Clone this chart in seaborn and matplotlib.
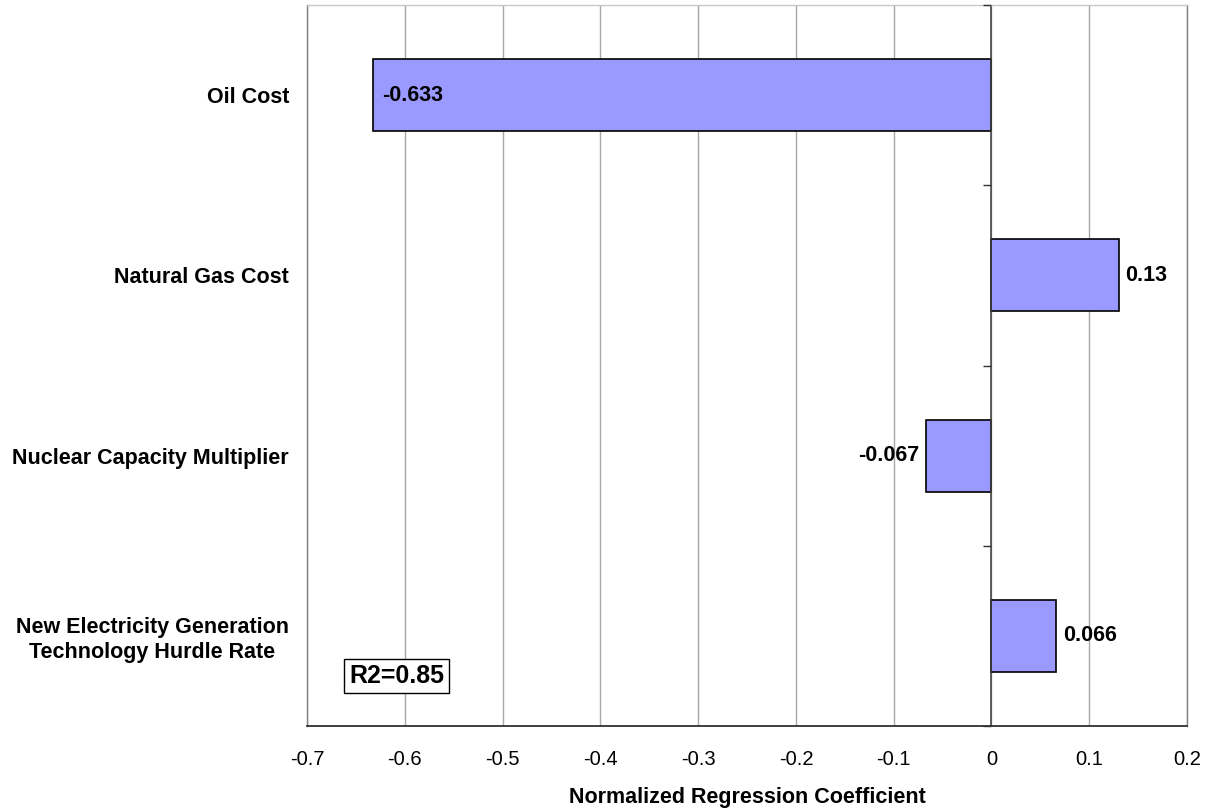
import matplotlib
matplotlib.use("Agg")
import matplotlib.pyplot as plt
import seaborn as sns
import numpy as np

categories = ["Oil Cost", "Natural Gas Cost", "Nuclear Capacity Multiplier",
              "New Electricity Generation\nTechnology Hurdle Rate"]
coefs = [-0.633, 0.13, -0.067, 0.066]
coef_labels = ["-0.633", "0.13", "-0.067", "0.066"]
xticks = [-0.7, -0.6, -0.5, -0.4, -0.3, -0.2, -0.1, 0, 0.1, 0.2]
xtick_labels = ["-0.7", "-0.6", "-0.5", "-0.4", "-0.3", "-0.2", "-0.1", "0", "0.1", "0.2"]
r2_text = "R2=0.85"

sns.set_style("white")
plt.rcParams['font.family'] = ['Liberation Sans', 'DejaVu Sans']
plt.rcParams['text.color'] = 'black'
plt.rcParams['xtick.color'] = 'black'
plt.rcParams['ytick.color'] = 'black'
plt.rcParams['axes.labelcolor'] = 'black'

fig = plt.figure(figsize=(12.11, 8.09), dpi=100)
ax = fig.add_axes([0.2535, 0.1026, 0.7267, 0.8912])

sns.barplot(x=coefs, y=categories, orient="h", color="#9999FF", saturation=1,
            width=0.4, edgecolor="black", linewidth=1.2, ax=ax)

ax.set_xlim(-0.7, 0.2)
ax.set_ylim(len(categories) - 0.5, -0.5)
ax.set_xticks(xticks)
ax.set_xticklabels(xtick_labels, fontsize=14.5)
ax.set_yticks(range(len(categories)))
ax.set_yticklabels(categories, fontsize=15.5, fontweight="bold",
                   multialignment="center", linespacing=1.2)
ax.tick_params(axis="y", length=0, pad=13)
ax.tick_params(axis="x", direction="out", length=5, width=1, color="#303030", pad=12)

ax.grid(axis="x", color="#a8a8a8", linewidth=1)
ax.set_axisbelow(True)
ax.spines["left"].set_color("#808080")
ax.spines["right"].set_color("#808080")
ax.spines["top"].set_color("#c8c8c8")
ax.spines["bottom"].set_color("#303030")
ax.spines["bottom"].set_linewidth(1.3)
for s in ["left", "right", "top"]:
    ax.spines[s].set_linewidth(1)

# category axis crossing at zero, ticks between categories
bounds = np.arange(len(categories) + 1) - 0.5
ax.axvline(0, color="#404040", linewidth=1.1, zorder=1)
ax.plot(np.zeros(len(bounds)), bounds, ls="none", marker=0, ms=6, mew=1,
        color="#303030", clip_on=False, zorder=3)

# bar value labels
for i, (v, lab) in enumerate(zip(coefs, coef_labels)):
    if v < -0.3:
        ax.annotate(lab, (v, i), xytext=(7, 0), textcoords="offset points",
                    ha="left", va="center", fontsize=15.5, fontweight="bold")
    elif v < 0:
        ax.annotate(lab, (v, i), xytext=(-5, 0), textcoords="offset points",
                    ha="right", va="center", fontsize=15.5, fontweight="bold")
    else:
        ax.annotate(lab, (v, i), xytext=(5, 0), textcoords="offset points",
                    ha="left", va="center", fontsize=15.5, fontweight="bold")

ax.text(0.102, 0.069, r2_text, transform=ax.transAxes, ha="center", va="center",
        fontsize=18, fontweight="bold",
        bbox=dict(boxstyle="square,pad=0.2", facecolor="white", edgecolor="black", linewidth=1))

ax.set_xlabel("Normalized Regression Coefficient", fontsize=15.5, fontweight="bold", labelpad=13)
ax.set_ylabel("")

fig.savefig("out.png", dpi=100)
